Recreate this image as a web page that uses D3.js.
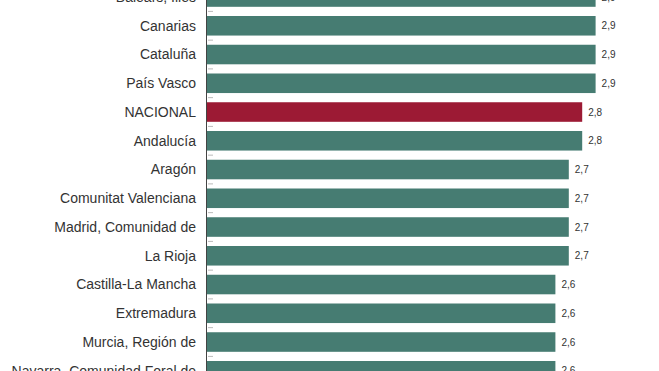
<!DOCTYPE html>
<html>
<head>
<meta charset="utf-8">
<script src="https://cdn.jsdelivr.net/npm/d3@7"></script>
<style>
  html, body { margin: 0; padding: 0; background: #fff; }
  svg { display: block; }
</style>
</head>
<body>
<svg id="chart"></svg>
<script>
// Regions (visible part of the chart) and their values
const regions = [
    'Balears, Illes', 'Canarias', 'Cataluña', 'País Vasco', 'NACIONAL', 'Andalucía',
    'Aragón', 'Comunitat Valenciana', 'Madrid, Comunidad de', 'La Rioja',
    'Castilla-La Mancha', 'Extremadura', 'Murcia, Región de', 'Navarra, Comunidad Foral de'
];
const values = [2.9, 2.9, 2.9, 2.9, 2.8, 2.8, 2.7, 2.7, 2.7, 2.7, 2.6, 2.6, 2.6, 2.6];
const highlight = 'NACIONAL';

const width = 659, height = 371;
const axisX = 207;

const svg = d3.select('#chart')
    .attr('width', width)
    .attr('height', height);

const x = d3.scaleLinear()
    .domain([0, 3])
    .range([axisX, axisX + 3 * 134]);

const y = d3.scaleBand()
    .domain(regions)
    .range([-17.35, 385.15])
    .paddingInner(0.32)
    .paddingOuter(0.16);

const data = regions.map((r, i) => ({ name: r, value: values[i] }));

// bars
svg.selectAll('rect.bar')
    .data(data)
    .enter()
    .append('rect')
    .attr('class', 'bar')
    .attr('x', x(0))
    .attr('y', d => y(d.name))
    .attr('width', d => x(d.value) - x(0))
    .attr('height', y.bandwidth())
    .attr('fill', d => d.name === highlight ? '#9c1a34' : '#467c72');

// value labels
svg.selectAll('text.val')
    .data(data)
    .enter()
    .append('text')
    .attr('class', 'val')
    .attr('x', d => x(d.value) + 6)
    .attr('y', d => y(d.name) + y.bandwidth() / 2)
    .attr('dy', '0.35em')
    .style('font-family', 'Arial, "Liberation Sans", sans-serif')
    .style('font-size', '10px')
    .style('fill', '#333')
    .text(d => d3.format('.1f')(d.value).replace('.', ','));

// category labels
svg.selectAll('text.cat')
    .data(data)
    .enter()
    .append('text')
    .attr('class', 'cat')
    .attr('x', axisX - 11)
    .attr('y', d => y(d.name) + y.bandwidth() / 2)
    .attr('dy', '0.35em')
    .attr('text-anchor', 'end')
    .style('font-family', 'Arial, "Liberation Sans", sans-serif')
    .style('font-size', '14px')
    .style('fill', '#333')
    .text(d => d.name);

// small ticks between categories
const step = y.step();
svg.selectAll('line.tick')
    .data(regions)
    .enter()
    .append('line')
    .attr('class', 'tick')
    .attr('x1', axisX + 1)
    .attr('x2', axisX + 6)
    .attr('y1', d => y(d) - (step - y.bandwidth()) / 2)
    .attr('y2', d => y(d) - (step - y.bandwidth()) / 2)
    .attr('stroke', '#bbb')
    .attr('stroke-width', 1);

// axis line
svg.append('line')
    .attr('x1', axisX - 0.5)
    .attr('x2', axisX - 0.5)
    .attr('y1', 0)
    .attr('y2', height)
    .attr('stroke', '#444')
    .attr('stroke-width', 1);
</script>
</body>
</html>
